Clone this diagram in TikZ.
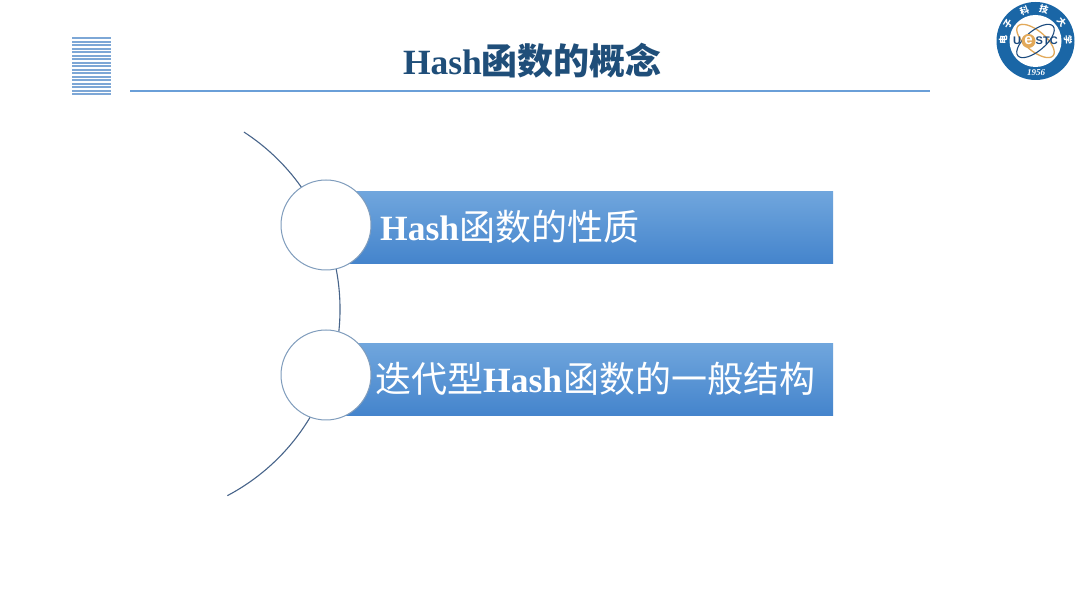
\documentclass[tikz,border=0pt]{standalone}
\usepackage{fontspec}
\setmainfont{Liberation Serif}
\setsansfont{Liberation Sans}
\newfontfamily\cjk{Noto Sans CJK SC}
\usetikzlibrary{shadings}
\definecolor{titleblue}{HTML}{1F4E79}
\definecolor{rulecol}{HTML}{6A9FD8}
\definecolor{stripecol}{HTML}{7DA7D6}
\definecolor{barTop}{HTML}{70A6DD}
\definecolor{barBot}{HTML}{4484CC}
\definecolor{arccol}{HTML}{47648A}
\definecolor{ringcol}{HTML}{7F9CBC}
\definecolor{logoblue}{HTML}{1A66A6}
\definecolor{logoorange}{HTML}{E2A95A}
\definecolor{logonavy}{HTML}{1B4A7E}
\newcommand{\hz}[1]{{\cjk\fontsize{36}{36}\selectfont #1}}
\newcommand{\hh}[1]{{\cjk\bfseries\fontsize{36}{36}\selectfont #1}}
\tikzset{
  x=1pt,y=1pt,
  barbox/.style={minimum width=493pt,minimum height=72.6pt,inner sep=0pt,draw=none,top color=barTop,bottom color=barBot,anchor=west},
  bubble/.style={circle,minimum size=90pt,inner sep=0pt,draw=ringcol,line width=1pt,fill=white},
  bartext/.style={text=white,font=\fontsize{35.5}{36}\selectfont,inner sep=0pt,anchor=west},
  ringchar/.style={text=white,font=\cjk\bfseries\fontsize{9}{9}\selectfont,inner sep=0pt},
  logotext/.style={inner sep=0pt,text=logonavy,font=\sffamily\bfseries\fontsize{11}{11}\selectfont},
}
\begin{document}
\begin{tikzpicture}
\useasboundingbox (0,0) rectangle (1080,607);
\fill[white] (0,0) rectangle (1080,607);
% stripes
\foreach \i in {0,...,16}{
  \fill[stripecol] (72,{607-37.5-\i*3.5}) rectangle (111,{607-37.5-\i*3.5-1.9});
}
% title
\node[text=titleblue,font=\fontsize{35.5}{36}\selectfont,inner sep=0pt] (title) at (532.5,546) {\textbf{Hash}\hh{函数的概念}};
\coordinate (ruleL) at (130,516);
\coordinate (ruleR) at (930,516);
\draw[rulecol,line width=2.6pt] (ruleL) -- (ruleR);
% arc
\coordinate (arcC) at (129,298);
\draw[arccol,line width=1.1pt] (arcC) ++(57:211) arc (57:-62.2:211);
% bars
\node[barbox] (bar1) at (340,379.3) {};
\node[barbox] (bar2) at (340,227.3) {};
\node[bubble] (c1) at (326,382) {};
\node[bubble] (c2) at (326,232) {};
\node[bartext] (t1) at (380,380) {\textbf{Hash}\hz{函数的性质}};
\node[bartext] (t2) at (375,228) {\hz{迭代型}\textbf{Hash}\hspace{1pt}\hz{函数的一般结构}};
% logo
\coordinate (lg) at (1035.5,566);
\fill[logoblue] (lg) circle (39);
\fill[white] (lg) circle (26);
\begin{scope}[shift={(lg)}]
  \draw[logoorange,line width=1.3pt,rotate=-40] (0,0) ellipse (23 and 10);
  \draw[logonavy,line width=1.1pt,rotate=40] (0,0) ellipse (23 and 10);
  \fill[logoorange] (-7,0) circle (7);
  \node[logotext] (lgU) at (-18.5,0) {U};
  \node[logotext,text=white,font=\sffamily\bfseries\fontsize{15}{15}\selectfont] (lgE) at (-7,0.5) {e};
  \node[logotext,anchor=west] (lgS) at (0,0) {STC};
  \node[ringchar,rotate=88] (r1) at (178:32.5) {电};
  \node[ringchar,rotate=58] (r2) at (148:32.5) {子};
  \node[ringchar,rotate=20] (r3) at (110:32.5) {科};
  \node[ringchar,rotate=-15] (r4) at (75:32.5) {技};
  \node[ringchar,rotate=-54] (r5) at (36:32.5) {大};
  \node[ringchar,rotate=-88] (r6) at (2:32.5) {学};
  \node[inner sep=0pt,text=white,font=\itshape\bfseries\fontsize{9}{9}\selectfont] (yr) at (0.7,-32) {1956};
\end{scope}
\end{tikzpicture}
\end{document}
